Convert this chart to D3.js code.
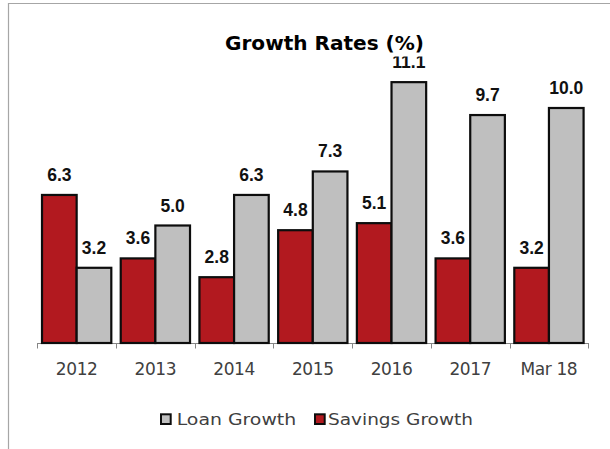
<!DOCTYPE html>
<html>
<head>
<meta charset="utf-8">
<script src="https://cdn.jsdelivr.net/npm/d3@7"></script>
<style>
  html, body { margin: 0; padding: 0; background: #fff; }
  svg { display: block; }
</style>
</head>
<body>
<svg id="chart" width="610" height="449"></svg>
<script>
// Growth rates by period
const categories = ["2012", "2013", "2014", "2015", "2016", "2017", "Mar 18"];
const savingsGrowth = [6.3, 3.6, 2.8, 4.8, 5.1, 3.6, 3.2];
const loanGrowth = [3.2, 5.0, 6.3, 7.3, 11.1, 9.7, 10.0];
const seriesNames = ["Savings Growth", "Loan Growth"];
const legendOrder = ["Loan Growth", "Savings Growth"];
const titleText = "Growth Rates (%)";

const colors = { "Savings Growth": "#b2191f", "Loan Growth": "#bfbfbf" };

const svg = d3.select("#chart");

// Frame (only top and left edges fall inside the view)
svg.append("path")
  .attr("d", "M8.5,449 L8.5,3.5 L610,3.5")
  .attr("fill", "none")
  .attr("stroke", "#a6a6a6")
  .attr("stroke-width", 1.2);

const baseY = 343;
const x = d3.scaleBand().domain(categories).range([37.3, 588.3]).paddingInner(0).paddingOuter(0);
const xs = d3.scaleBand().domain(seriesNames).range([0, x.bandwidth()]).paddingInner(0).paddingOuter(0.136);
const y = d3.scaleLinear().domain([0, 12]).range([baseY, baseY - 12 * 23.5]);

const rows = categories.map((c, i) => ({
  cat: c,
  values: [
    { key: "Savings Growth", v: savingsGrowth[i] },
    { key: "Loan Growth", v: loanGrowth[i] }
  ]
}));

// Category axis: line plus ticks at band boundaries
const axisG = svg.append("g");
axisG.append("line")
  .attr("x1", x.range()[0]).attr("x2", x.range()[1])
  .attr("y1", baseY + 0.5).attr("y2", baseY + 0.5)
  .attr("stroke", "#868686").attr("stroke-width", 1);
const boundaries = categories.map(c => x(c)).concat([x.range()[1]]);
axisG.selectAll("line.tick").data(boundaries).join("line")
  .attr("class", "tick")
  .attr("x1", d => Math.round(d) + 0.5).attr("x2", d => Math.round(d) + 0.5)
  .attr("y1", baseY).attr("y2", baseY + 5.5)
  .attr("stroke", "#868686").attr("stroke-width", 1);
axisG.selectAll("text.cat").data(categories).join("text")
  .attr("class", "cat")
  .attr("x", d => x(d) + x.bandwidth() / 2)
  .attr("y", 375)
  .attr("text-anchor", "middle")
  .attr("font-family", "DejaVu Sans")
  .attr("font-size", 17)
  .attr("letter-spacing", -0.4)
  .attr("fill", "#404040")
  .text(d => d);

// Bars
const groups = svg.append("g").selectAll("g").data(rows).join("g")
  .attr("transform", d => `translate(${x(d.cat)},0)`);
groups.selectAll("rect").data(d => d.values).join("rect")
  .attr("x", d => xs(d.key))
  .attr("y", d => y(d.v))
  .attr("width", xs.bandwidth())
  .attr("height", d => baseY - y(d.v))
  .attr("fill", d => colors[d.key])
  .attr("stroke", "#0d0d0d")
  .attr("stroke-width", 2.2);

// Value labels
groups.selectAll("text").data(d => d.values).join("text")
  .attr("x", d => xs(d.key) + xs.bandwidth() / 2)
  .attr("y", d => y(d.v) - 14)
  .attr("text-anchor", "middle")
  .attr("font-family", "Liberation Sans")
  .attr("font-weight", "bold")
  .attr("font-size", 17.5)
  .attr("fill", "#111")
  .text(d => d.v.toFixed(1));

// Title with its own white box
const titleBox = svg.append("rect")
  .attr("x", 222).attr("y", 28).attr("width", 206).attr("height", 28.5)
  .attr("fill", "#fff");
svg.append("text")
  .attr("x", 324.5).attr("y", 50)
  .attr("text-anchor", "middle")
  .attr("font-family", "DejaVu Sans")
  .attr("font-weight", "bold")
  .attr("font-size", 20)
  .attr("textLength", 199)
  .attr("lengthAdjust", "spacingAndGlyphs")
  .attr("fill", "#000")
  .text(titleText);

// Legend
const legendItems = [
  { key: "Loan Growth", sx: 160, tx: 176.7, tw: 119.5 },
  { key: "Savings Growth", sx: 314, tx: 328, tw: 145 }
];
const lg = svg.append("g").selectAll("g").data(legendOrder.map(k => legendItems.find(l => l.key === k))).join("g");
lg.append("rect")
  .attr("x", d => d.sx + 1).attr("y", 414.3)
  .attr("width", 9.7).attr("height", 9.7)
  .attr("fill", d => colors[d.key])
  .attr("stroke", "#0d0d0d").attr("stroke-width", 2);
lg.append("text")
  .attr("x", d => d.tx).attr("y", 425)
  .attr("font-family", "DejaVu Sans")
  .attr("font-size", 16)
  .attr("textLength", d => d.tw)
  .attr("lengthAdjust", "spacingAndGlyphs")
  .attr("fill", "#404040")
  .text(d => d.key);
</script>
</body>
</html>
